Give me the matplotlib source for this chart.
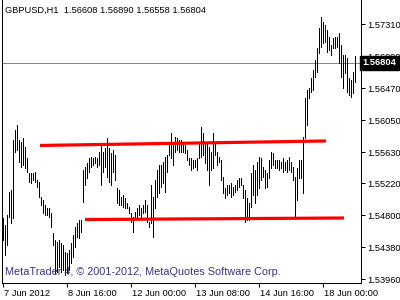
import matplotlib
matplotlib.use("Agg")
import matplotlib.pyplot as plt
import matplotlib.transforms as mtransforms

# ---------------- data ----------------
header = "GBPUSD,H1  1.56608 1.56890 1.56558 1.56804"
watermark = "MetaTrader 4, \u00a9 2001-2012, MetaQuotes Software Corp."

highs = [
    # 7 Jun 08:00 ...
    1.5476, 1.5467, 1.5480, 1.5511, 1.5513, 1.5579, 1.5592, 1.5599, 1.5579, 1.5576,
    1.5582, 1.5570, 1.5555, 1.5536, 1.5536, 1.5536, 1.5537, 1.5526, 1.5524, 1.5504,
    1.5500, 1.5494, 1.5490, 1.5490, 1.5483, 1.5457, 1.5448, 1.5445, 1.5448, 1.5444,
    1.5441, 1.5432,
    # 8 Jun 16:00 ...
    1.5430, 1.5434, 1.5444, 1.5454, 1.5465, 1.5470, 1.5474, 1.5474, 1.5540, 1.5543,
    1.5549, 1.5555, 1.5557, 1.5555, 1.5557, 1.5555, 1.5563, 1.5572, 1.5563, 1.5568,
    1.5582, 1.5568, 1.5562, 1.5566, 1.5559, 1.5516, 1.5513, 1.5504, 1.5507, 1.5503,
    1.5496, 1.5491, 1.5483, 1.5478,
    # 12 Jun ...
    1.5484, 1.5490, 1.5494, 1.5490, 1.5494, 1.5500, 1.5494, 1.5471, 1.5520, 1.5504,
    1.5526, 1.5540, 1.5546, 1.5546, 1.5550, 1.5557, 1.5559, 1.5576, 1.5588, 1.5575,
    1.5583, 1.5582, 1.5579, 1.5579, 1.5576, 1.5572, 1.5566, 1.5555, 1.5555, 1.5553,
    1.5553, 1.5555, 1.5576,
    # 13 Jun ...
    1.5596, 1.5588, 1.5575, 1.5575, 1.5570, 1.5563, 1.5588, 1.5576, 1.5563, 1.5557,
    1.5553, 1.5530, 1.5516, 1.5520, 1.5520, 1.5522, 1.5517, 1.5520, 1.5526, 1.5529,
    1.5529, 1.5520, 1.5513, 1.5503, 1.5496, 1.5536, 1.5546, 1.5540, 1.5550, 1.5557,
    1.5555, 1.5543,
    # 14 Jun ...
    1.5540, 1.5536, 1.5553, 1.5563, 1.5562, 1.5553, 1.5553, 1.5553, 1.5550, 1.5555,
    1.5550, 1.5553, 1.5557, 1.5550, 1.5543, 1.5530, 1.5542, 1.5553, 1.5553,
    # 15 Jun ... 18 Jun
    1.5583, 1.5634, 1.5645, 1.5647, 1.5660, 1.5671, 1.5684, 1.5700, 1.5726, 1.5741,
    1.5734, 1.5730, 1.5724, 1.5714, 1.5704, 1.5713, 1.5714, 1.5714, 1.5720, 1.5704,
    1.5691, 1.5691, 1.5687, 1.5660, 1.5658, 1.5668, 1.56890,
]

lows = [
    1.5448, 1.5428, 1.5441, 1.5478, 1.5470, 1.5476, 1.5563, 1.5566, 1.5550, 1.5543,
    1.5546, 1.5542, 1.5537, 1.5524, 1.5522, 1.5526, 1.5524, 1.5517, 1.5504, 1.5494,
    1.5483, 1.5480, 1.5480, 1.5478, 1.5465, 1.5441, 1.5404, 1.5405, 1.5412, 1.5405,
    1.5408, 1.5401,
    1.5404, 1.5408, 1.5417, 1.5425, 1.5438, 1.5452, 1.5450, 1.5458, 1.5497, 1.5520,
    1.5529, 1.5537, 1.5543, 1.5546, 1.5549, 1.5543, 1.5546, 1.5520, 1.5537, 1.5543,
    1.5530, 1.5524, 1.5520, 1.5537, 1.5526, 1.5496, 1.5494, 1.5494, 1.5491, 1.5490,
    1.5490, 1.5483, 1.5471, 1.5458,
    1.5476, 1.5476, 1.5480, 1.5478, 1.5483, 1.5484, 1.5471, 1.5465, 1.5470, 1.5452,
    1.5490, 1.5504, 1.5509, 1.5517, 1.5522, 1.5511, 1.5537, 1.5559, 1.5555, 1.5546,
    1.5563, 1.5566, 1.5563, 1.5563, 1.5563, 1.5562, 1.5553, 1.5546, 1.5540, 1.5542,
    1.5543, 1.5540, 1.5555,
    1.5557, 1.5559, 1.5549, 1.5540, 1.5520, 1.5540, 1.5542, 1.5559, 1.5546, 1.5550,
    1.5526, 1.5509, 1.5503, 1.5507, 1.5509, 1.5504, 1.5507, 1.5511, 1.5513, 1.5517,
    1.5520, 1.5503, 1.5471, 1.5474, 1.5474, 1.5491, 1.5507, 1.5496, 1.5507, 1.5516,
    1.5526, 1.5530,
    1.5516, 1.5517, 1.5529, 1.5542, 1.5546, 1.5542, 1.5542, 1.5540, 1.5542, 1.5537,
    1.5540, 1.5537, 1.5540, 1.5537, 1.5526, 1.5476, 1.5500, 1.5529, 1.5529,
    1.5509, 1.5582, 1.5599, 1.5634, 1.5642, 1.5645, 1.5662, 1.5668, 1.5693, 1.5701,
    1.5706, 1.5708, 1.5695, 1.5697, 1.5691, 1.5700, 1.5700, 1.5701, 1.5680, 1.5662,
    1.5647, 1.5667, 1.5642, 1.5638, 1.5635, 1.5641, 1.56558,
]

doji_bars = [143, 161]          # bars drawn in blue
bid = 1.56804

upper_line_x = [18.5, 161.5]
upper_line_y = [1.55718, 1.55777]
lower_line_x = [41.0, 170.5]
lower_line_y = [1.54745, 1.54765]

price_ticks = [1.57310, 1.56890, 1.56470, 1.56050, 1.55630,
               1.55220, 1.54800, 1.54380, 1.53960]
time_tick_pos = [0, 32, 64, 96, 128, 160]
time_tick_labels = ["7 Jun 2012", "8 Jun 16:00", "12 Jun 00:00",
                    "13 Jun 08:00", "14 Jun 16:00", "18 Jun 00:00"]

# ---------------- figure ----------------
W, H = 400, 300
FONT = "Liberation Sans"
fig = plt.figure(figsize=(W / 100, H / 100), dpi=100, facecolor="white")
ax = fig.add_axes([2 / W, 17 / H, 359 / W, 283 / H])
ax.set_facecolor("white")

n = len(highs)
idx = list(range(n))
cols = ["#0000ff" if i in doji_bars else "black" for i in idx]

ax.axhline(bid, color="#7a8898", lw=0.6, zorder=1, antialiased=False)
ax.vlines(idx, lows, highs, colors=cols, linewidth=0.6,
          antialiased=False, zorder=3)
ax.plot(upper_line_x, upper_line_y, color="#ff0000", lw=2.3,
        solid_capstyle="butt", zorder=4)
ax.plot(lower_line_x, lower_line_y, color="#ff0000", lw=2.3,
        solid_capstyle="butt", zorder=4)

ax.set_xlim(-0.5, 179)
ax.set_ylim(1.53911, 1.57629)

for s in ["left", "right", "bottom"]:
    ax.spines[s].set_color("black")
    ax.spines[s].set_linewidth(0.72)
ax.spines["top"].set_visible(False)

ax.yaxis.tick_right()
ax.set_yticks(price_ticks)
ax.set_yticklabels([f"{p:.5f}" for p in price_ticks], fontfamily=FONT)
ax.tick_params(axis="y", length=3, width=0.72, pad=1.5, labelsize=6.7,
               colors="black")

ax.set_xticks(time_tick_pos)
ax.set_xticklabels(time_tick_labels, ha="left", fontfamily=FONT)
ax.tick_params(axis="x", length=3, width=0.72, pad=1.5, labelsize=6.7,
               colors="black")
offset = mtransforms.ScaledTranslation(1 / 100, 0, fig.dpi_scale_trans)
for lab in ax.get_xticklabels():
    lab.set_transform(lab.get_transform() + offset)

# bid label box
trans = mtransforms.blended_transform_factory(ax.transAxes, ax.transData)
ax.text(1.004, bid, f"{bid:.5f}", transform=trans, ha="left", va="center",
        color="white", fontsize=6.7, fontfamily=FONT, fontweight="bold",
        clip_on=False, zorder=10,
        bbox=dict(boxstyle="square,pad=0.25", fc="black", ec="black"))

fig.text(5 / W, 1 - 10 / H, header, ha="left", va="center",
         fontsize=6.7, fontfamily=FONT, color="black")
fig.text(5 / W, 1 - 272 / H, watermark, ha="left", va="center",
         fontsize=7.8, fontfamily=FONT, color="#35357a")

fig.savefig("out.png", dpi=100, facecolor="white")
